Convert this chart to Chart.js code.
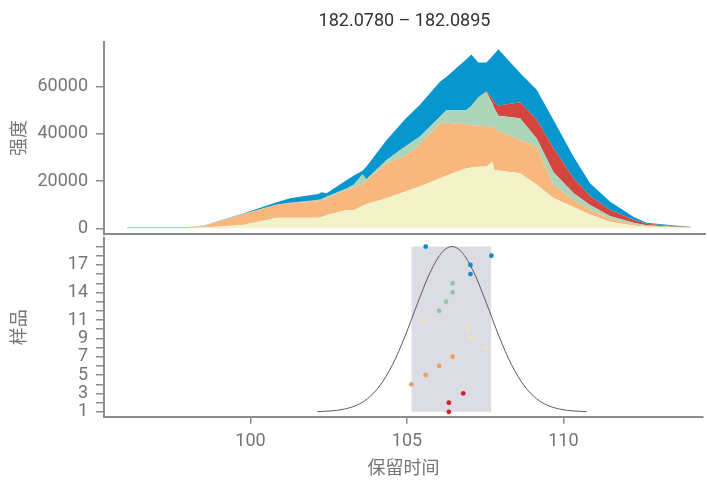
<!DOCTYPE html>
<html>
<head>
<meta charset="utf-8">
<script src="https://cdn.jsdelivr.net/npm/chart.js@4.4.1/dist/chart.umd.min.js"></script>
<style>
  html, body { margin: 0; padding: 0; background: #fff; }
  #wrap { position: relative; width: 707px; height: 480px; }
  #top { position: absolute; left: 0; top: 0; }
  #bottom { position: absolute; left: 0; top: 234px; }
</style>
</head>
<body>
<div id="wrap">
  <canvas id="top" width="707" height="236"></canvas>
  <canvas id="bottom" width="707" height="246"></canvas>
</div>
<script>
// retention time grid shared by all stacked layers
const retentionTime = [96.05, 98.00, 98.50, 99.75, 100.82, 101.24, 102.14, 102.25, 102.41, 103.05,
  103.28, 103.55, 103.68, 104.32, 104.90, 105.38, 106.02, 106.22, 106.86, 107.02,
  107.24, 107.50, 107.70, 107.74, 107.88, 108.57, 109.10, 109.63, 110.27, 110.80,
  111.43, 112.18, 112.60, 113.50, 114.00];

// intensity of each sample group (stacked bottom to top)
const areaYellow = [100, 150, 300, 1400, 4500, 4500, 4500, 4700, 5600, 7700,
  7600, 9500, 10300, 12700, 15500, 17700, 21200, 22200, 25400, 25700,
  26000, 26100, 28200, 24700, 24500, 23300, 18500, 12800, 9000, 5800,
  2800, 1200, 700, 400, 200];
const areaOrange = [400, 450, 700, 4600, 5400, 6100, 6800, 7000, 7100, 8600,
  9700, 9000, 10000, 14800, 15000, 17600, 23400, 22500, 18600, 17900,
  17400, 17200, 14400, 17700, 16700, 14100, 16000, 5600, 3000, 2000,
  1100, 500, 200, 100, 50];
const areaGreen = [0, 0, 100, 100, 100, 100, 600, 600, 600, 500,
  1200, 4300, 500, 1400, 4000, 3500, 2600, 5300, 5900, 8100,
  11900, 14400, 9900, 8600, 6400, 9200, 3500, 5400, 2900, 2100,
  1300, 700, 400, 200, 50];
const areaRed = [0, 0, 0, 0, 100, 100, 200, 200, 100, 0,
  0, 0, 0, 0, 0, 0, 0, 0, 0, 0,
  200, 300, 2000, 2500, 4400, 6700, 8000, 10200, 6400, 3800,
  2600, 1200, 600, 200, 200];
const areaBlue = [0, 0, 50, 200, 900, 1900, 2400, 2800, 1400, 3600,
  3800, 1600, 5300, 8500, 11500, 13500, 14800, 14000, 21600, 21800,
  14700, 12200, 18500, 20100, 23800, 12400, 12600, 11900, 9100, 5400,
  3500, 1300, 500, 300, 200];

const layers = [areaYellow, areaOrange, areaGreen, areaRed, areaBlue];
const layerColors = ['#f3f3c9', '#f8b77c', '#acd5b9', '#d3453f', '#0896cf'];
const intensityTicks = [0, 20000, 40000, 60000];

// per-sample apex retention time
const samples = [1, 2, 3, 4, 5, 6, 7, 8, 9, 10, 11, 12, 13, 14, 15, 16, 17, 18, 19];
const sampleRT = [106.34, 106.34, 106.80, 105.14, 105.60, 106.03, 106.46, 107.52, 107.03, 106.95,
  105.60, 106.03, 106.25, 106.46, 106.46, 107.03, 107.03, 107.70, 105.60];
const sampleColors = ['#c8262d', '#c8262d', '#c8262d',
  '#e9a064', '#e9a064', '#e9a064', '#e9a064',
  '#ece4b2', '#ece4b2', '#ece4b2', '#ece4b2',
  '#92c69e', '#92c69e', '#92c69e', '#92c69e',
  '#0b8cc8', '#0b8cc8', '#0b8cc8', '#0b8cc8'];
const sampleTickLabels = [1, 3, 5, 7, 9, 11, 14, 17];

// peak profile drawn over the sample axis
const profileRT = [102.14, 102.54, 102.94, 103.34, 103.74, 104.14, 104.54, 104.94, 105.34, 105.74,
  106.14, 106.44, 106.74, 107.14, 107.54, 107.94, 108.34, 108.74, 109.14, 109.54,
  109.94, 110.34, 110.74];
const profileLevel = [1.03, 1.09, 1.26, 1.64, 2.43, 3.87, 6.14, 9.24, 12.83, 16.18,
  18.44, 19.0, 18.44, 16.18, 12.83, 9.24, 6.14, 3.87, 2.43, 1.64,
  1.26, 1.09, 1.03];

const rtTicks = [100, 105, 110];

const xMin = 95.32, xMax = 114.46;
const axisGray = '#8c8c8c';
const textGray = '#757575';
const FONT = "Roboto, 'Noto Sans CJK SC', sans-serif";
const tickFont = { family: FONT, size: 18 };

// keep the plot area where we put it: no extra room for edge labels
function noEdgePadding(s) {
  s.paddingTop = 0; s.paddingBottom = 0; s.paddingLeft = 0; s.paddingRight = 0;
}

new Chart(document.getElementById('top'), {
  type: 'line',
  data: {
    datasets: layers.map((vals, i) => ({
      data: retentionTime.map((t, j) => ({ x: t, y: vals[j] })),
      fill: i === 0 ? 'origin' : '-1',
      backgroundColor: layerColors[i],
      borderWidth: 0,
      pointRadius: 0,
      tension: 0
    }))
  },
  options: {
    responsive: false,
    animation: false,
    layout: { padding: { left: 0, right: 2, top: 0, bottom: 0 } },
    plugins: {
      legend: { display: false },
      tooltip: { enabled: false },
      title: {
        display: true,
        fullSize: false,
        text: '182.0780 – 182.0895',
        color: '#333',
        font: { family: FONT, size: 18, weight: 'normal' },
        padding: { top: 11, bottom: 9 }
      }
    },
    scales: {
      x: {
        type: 'linear', min: xMin, max: xMax,
        ticks: { display: false },
        grid: { display: false },
        border: { color: axisGray, width: 2 },
        afterFit: s => { s.height = 1.7; noEdgePadding(s); }
      },
      y: {
        stacked: true, min: -2540, max: 79000,
        afterBuildTicks: s => { s.ticks = intensityTicks.map(v => ({ value: v })); },
        ticks: { color: textGray, font: tickFont, padding: 8, callback: v => String(v) },
        grid: { drawOnChartArea: false, tickLength: 8, color: axisGray, lineWidth: 1.5 },
        border: { color: axisGray, width: 2 },
        title: { display: true, text: '强度', color: textGray, font: tickFont, padding: { top: 10 } },
        afterFit: s => { s.width = 104; noEdgePadding(s); }
      }
    }
  }
});

const rtLo = Math.min(...sampleRT), rtHi = Math.max(...sampleRT);
const sLo = Math.min(...samples), sHi = Math.max(...samples);

new Chart(document.getElementById('bottom'), {
  type: 'scatter',
  data: {
    datasets: [
      {
        data: samples.map((s, i) => ({ x: sampleRT[i], y: s })),
        pointBackgroundColor: sampleColors,
        pointBorderWidth: 0,
        pointRadius: 2.4
      },
      {
        type: 'line',
        data: profileRT.map((t, i) => ({ x: t, y: profileLevel[i] })),
        borderColor: '#5a5a5a',
        borderWidth: 1,
        pointRadius: 0,
        cubicInterpolationMode: 'monotone',
        fill: false
      },
      {
        type: 'line',
        data: [{ x: rtLo, y: sHi }, { x: rtHi, y: sHi }],
        fill: { value: sLo },
        backgroundColor: 'rgba(205,207,216,0.7)',
        borderWidth: 0,
        pointRadius: 0
      }
    ]
  },
  options: {
    responsive: false,
    animation: false,
    layout: { padding: { left: 0, right: 2, top: 0, bottom: 0 } },
    plugins: { legend: { display: false }, tooltip: { enabled: false } },
    scales: {
      x: {
        type: 'linear', min: xMin, max: xMax,
        afterBuildTicks: s => { s.ticks = rtTicks.map(v => ({ value: v })); },
        ticks: { color: textGray, font: tickFont, padding: 7, callback: v => String(v) },
        grid: { drawOnChartArea: false, tickLength: 7, color: axisGray, lineWidth: 1.5 },
        border: { color: axisGray, width: 2 },
        title: { display: true, text: '保留时间', color: textGray, font: tickFont, padding: { top: 0, bottom: 0 } },
        afterFit: s => { s.height = 63.3; noEdgePadding(s); }
      },
      y: {
        min: 0.47, max: 19.93,
        afterBuildTicks: s => { s.ticks = samples.map(v => ({ value: v })); },
        ticks: {
          color: textGray, font: tickFont, padding: 8, autoSkip: false,
          callback: v => sampleTickLabels.includes(v) ? String(v) : ''
        },
        grid: { drawOnChartArea: false, tickLength: 8, color: axisGray, lineWidth: 1.5 },
        border: { color: axisGray, width: 2 },
        title: { display: true, text: '样品', color: textGray, font: tickFont, padding: { top: 10 } },
        afterFit: s => { s.width = 104; noEdgePadding(s); }
      }
    }
  }
});
</script>
</body>
</html>
